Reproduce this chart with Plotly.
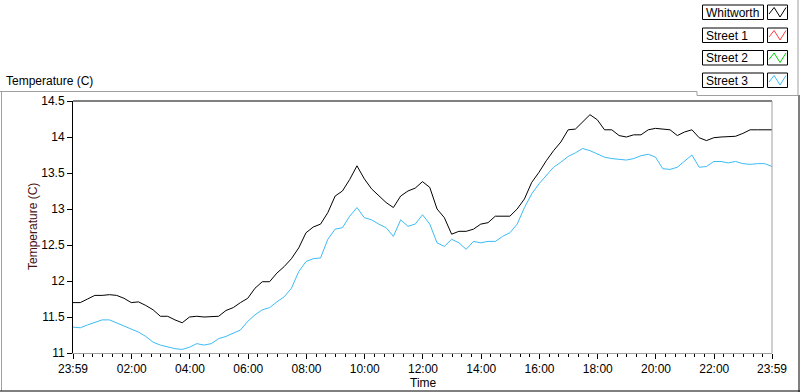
import plotly.graph_objects as go
import pandas as pd

# ---------------- data ----------------
start_time = "2000-01-01 23:59"
n_samples = 97            # 15-minute readings from 23:59 to 23:59
times = pd.date_range(start_time, periods=n_samples, freq="15min")

whitworth = [
    11.70, 11.70, 11.75, 11.80, 11.80, 11.81, 11.80, 11.76, 11.70, 11.71,
    11.66, 11.60, 11.51, 11.51, 11.46, 11.42, 11.50, 11.51, 11.50, 11.51,
    11.51, 11.59, 11.63, 11.70, 11.76, 11.90, 11.99, 11.99, 12.11, 12.20,
    12.31, 12.46, 12.67, 12.75, 12.79, 12.95, 13.18, 13.25, 13.41, 13.60,
    13.42, 13.28, 13.18, 13.09, 13.02, 13.18, 13.25, 13.29, 13.38, 13.30,
    13.00, 12.88, 12.65, 12.69, 12.69, 12.72, 12.79, 12.81, 12.90, 12.90,
    12.90, 13.00, 13.14, 13.37, 13.51, 13.67, 13.81, 13.93, 14.10, 14.11,
    14.21, 14.31, 14.24, 14.10, 14.10, 14.02, 14.00, 14.03, 14.03, 14.10,
    14.12, 14.11, 14.10, 14.02, 14.07, 14.10, 13.99, 13.95, 13.99, 14.00,
    14.00, 14.01, 14.05, 14.10, 14.10, 14.10, 14.10,
]
street_1 = []
street_2 = []
street_3 = [
    11.36, 11.35, 11.39, 11.42, 11.46, 11.46, 11.42, 11.38, 11.34, 11.29,
    11.23, 11.15, 11.11, 11.08, 11.06, 11.05, 11.08, 11.13, 11.11, 11.13,
    11.20, 11.23, 11.27, 11.32, 11.44, 11.53, 11.60, 11.63, 11.71, 11.78,
    11.90, 12.13, 12.27, 12.31, 12.32, 12.58, 12.72, 12.74, 12.90, 13.02,
    12.88, 12.85, 12.79, 12.74, 12.62, 12.85, 12.76, 12.79, 12.92, 12.79,
    12.53, 12.48, 12.58, 12.53, 12.44, 12.55, 12.53, 12.55, 12.55, 12.62,
    12.67, 12.79, 13.02, 13.21, 13.35, 13.46, 13.58, 13.65, 13.73, 13.78,
    13.84, 13.81, 13.77, 13.72, 13.70, 13.69, 13.68, 13.70, 13.74, 13.76,
    13.72, 13.56, 13.55, 13.58, 13.67, 13.75, 13.58, 13.59, 13.66, 13.66,
    13.64, 13.66, 13.63, 13.62, 13.63, 13.63, 13.59,
]

series_names = ["Whitworth", "Street 1", "Street 2", "Street 3"]
series_colors = ["#000000", "#ff3c3c", "#00d200", "#3cbcf5"]

tick_times = ["2000-01-01 23:59", "2000-01-02 02:00", "2000-01-02 04:00",
              "2000-01-02 06:00", "2000-01-02 08:00", "2000-01-02 10:00",
              "2000-01-02 12:00", "2000-01-02 14:00", "2000-01-02 16:00",
              "2000-01-02 18:00", "2000-01-02 20:00", "2000-01-02 22:00",
              "2000-01-02 23:59"]
tick_labels = ["23:59", "02:00", "04:00", "06:00", "08:00", "10:00", "12:00",
               "14:00", "16:00", "18:00", "20:00", "22:00", "23:59"]
y_ticks = [11, 11.5, 12, 12.5, 13, 13.5, 14, 14.5]

# ---------------- layout geometry (pixels) ----------------
W_PX, H_PX = 800, 392
PL, PR, PT, PB = 73, 772, 101, 353
PW, PH = PR - PL, PB - PT


def px_x(px):
    return (px - PL) / PW


def px_y(py):
    return (PB - py) / PH


FONT = "Liberation Sans, Arial, sans-serif"

fig = go.Figure()
series_values = [whitworth, street_1, street_2, street_3]
for name, vals, col in zip(series_names, series_values, series_colors):
    fig.add_trace(go.Scatter(
        x=list(times[:len(vals)]), y=vals, mode="lines", name=name,
        line=dict(color=col, width=1), showlegend=False, hoverinfo="x+y+name",
    ))

shapes = []


def line(x0, y0, x1, y1, color, width=1):
    shapes.append(dict(type="line", xref="paper", yref="paper",
                       x0=px_x(x0), y0=px_y(y0), x1=px_x(x1), y1=px_y(y1),
                       line=dict(color=color, width=width), layer="above"))


def rect(x0, y0, x1, y1, color):
    shapes.append(dict(type="rect", xref="paper", yref="paper",
                       x0=px_x(x0), y0=px_y(y0), x1=px_x(x1), y1=px_y(y1),
                       line=dict(color=color, width=1), fillcolor="white",
                       layer="above"))


GRAY = "#a0a0a0"
# plot area border: top black, right/bottom gray
line(PL, PT, PR, PT, "#000000")
line(PR, PT, PR, PB, GRAY)
# outer frame
line(0, 91.5, 697, 91.5, GRAY)
line(1.5, 91.5, 1.5, 391, GRAY)
line(0, 391, 800, 391, "#000000")
line(799, 95, 799, 392, "#000000")
# legend panel edges
line(697, 91.5, 697, 95.5, GRAY)
line(697, 95.5, 798, 95.5, GRAY)
line(798, 0, 798, 95.5, GRAY)

annotations = []
row_tops = [5, 28, 50.5, 73]
row_h = 14.5
for name, col, top in zip(series_names, series_colors, row_tops):
    rect(702.5, top, 763.5, top + row_h, "#000000")
    rect(767.5, top, 787.5, top + row_h, "#000000")
    # zig-zag icon
    ix0, iw = 769, 17
    pts = [(ix0, top + 9), (ix0 + iw * 0.3, top + 2.5),
           (ix0 + iw * 0.65, top + 12), (ix0 + iw, top + 2.5)]
    path = "M " + " L ".join(f"{px_x(a)},{px_y(b)}" for a, b in pts)
    shapes.append(dict(type="path", xref="paper", yref="paper", path=path,
                       line=dict(color=col, width=1), layer="above"))
    annotations.append(dict(text=name, xref="paper", yref="paper",
                            x=px_x(704), y=px_y(top + row_h / 2 + 0.5),
                            xanchor="left", yanchor="middle", showarrow=False,
                            font=dict(family=FONT, size=12, color="#000000")))

annotations.append(dict(text="Temperature (C)", xref="paper", yref="paper",
                        x=px_x(4), y=px_y(81), xanchor="left", yanchor="middle",
                        showarrow=False,
                        font=dict(family=FONT, size=12, color="#000000")))
annotations.append(dict(text="Temperature (C)", xref="paper", yref="paper",
                        x=px_x(33), y=px_y(227), xanchor="center",
                        yanchor="middle", textangle=-90, showarrow=False,
                        font=dict(family=FONT, size=12, color="#4a1212")))
annotations.append(dict(text="Time", xref="paper", yref="paper",
                        x=px_x(423), y=px_y(383), xanchor="center",
                        yanchor="middle", showarrow=False,
                        font=dict(family=FONT, size=12, color="#000000")))

fig.update_layout(
    width=W_PX, height=H_PX,
    margin=dict(l=PL, r=W_PX - PR, t=PT, b=H_PX - PB, pad=0),
    paper_bgcolor="white", plot_bgcolor="white",
    showlegend=False, shapes=shapes, annotations=annotations,
    font=dict(family=FONT, size=12, color="#000000"),
)
fig.update_xaxes(
    type="date", range=[tick_times[0], tick_times[-1]],
    tickmode="array", tickvals=tick_times, ticktext=tick_labels,
    showgrid=False, zeroline=False, showline=True, linecolor=GRAY,
    linewidth=1, ticks="outside", ticklen=5, tickcolor="#000000",
    tickfont=dict(family=FONT, size=12, color="#000000"),
    minor=dict(ticks="outside", ticklen=3, tickcolor="#000000",
               dtick=20 * 60 * 1000, tick0="2000-01-02 00:00", showgrid=False),
)
fig.update_yaxes(
    range=[11, 14.5], tickmode="array", tickvals=y_ticks,
    showgrid=False, zeroline=False, showline=True, linecolor="#000000",
    linewidth=1, ticks="outside", ticklen=5, tickcolor="#000000",
    tickfont=dict(family=FONT, size=12, color="#000000"),
)

fig.write_html(
    "out.html",
    config={"displayModeBar": False},
    post_script="document.body.style.margin='0px';"
                "document.body.style.overflow='hidden';",
)
